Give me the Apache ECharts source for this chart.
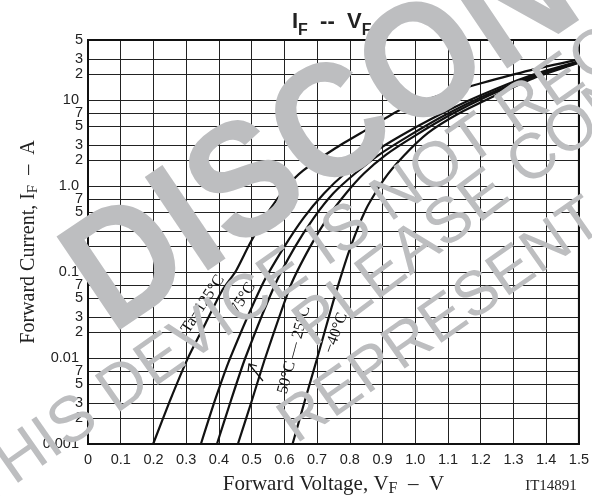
<!DOCTYPE html>
<html><head><meta charset="utf-8">
<script src="https://cdn.jsdelivr.net/npm/echarts@6/dist/echarts.min.js"></script>
<style>html,body{margin:0;padding:0;background:#fff}#c{width:592px;height:502px}</style>
</head><body><div id="c"></div>
<script>
// Tick values and labels
const xMin = 0, xMax = 1.5, xStep = 0.1;
const yMin = 0.001, yMax = 50;
const yTickValues = [0.001,0.002,0.003,0.005,0.007,0.01,0.02,0.03,0.05,0.07,0.1,0.2,0.3,0.5,0.7,1,2,3,5,7,10,20,30,50];
const yTickLabels = ['0.001','2','3','5','7','0.01','2','3','5','7','0.1','2','3','5','7','1.0','2','3','5','7','10','2','3','5'];
const decadeValues = [0.001,0.01,0.1,1,10];

// Curves: [forward voltage V, forward current A]
const curve125 = [[0.199,0.001],[0.251,0.00323],[0.306,0.0101],[0.357,0.0244],[0.409,0.0603],[0.452,0.103],[0.495,0.216],[0.556,0.535],[0.608,0.986],[0.657,1.51],[0.758,2.79],[0.855,4.62],[0.953,7.66],[1.075,11.4],[1.201,15.7],[1.35,22.2],[1.5,29.8]];
const curve75 = [[0.345,0.001],[0.388,0.00323],[0.434,0.0099],[0.532,0.0708],[0.599,0.195],[0.660,0.433],[0.721,0.82],[0.785,1.40],[0.862,2.31],[0.953,3.79],[1.075,6.79],[1.198,11.3],[1.35,19.2],[1.5,28.2]];
const curve50 = [[0.394,0.001],[0.437,0.00323],[0.480,0.00987],[0.571,0.0708],[0.632,0.195],[0.691,0.433],[0.749,0.82],[0.816,1.40],[0.889,2.31],[0.978,3.79],[1.094,6.79],[1.213,11.3],[1.354,18.7],[1.5,27.9]];
const curve25 = [[0.458,0.001],[0.501,0.00323],[0.541,0.00987],[0.620,0.0708],[0.678,0.195],[0.733,0.433],[0.788,0.82],[0.843,1.40],[0.910,2.31],[0.996,3.79],[1.109,6.79],[1.225,11.3],[1.357,18.5],[1.5,27.5]];
const curveM40 = [[0.625,0.001],[0.663,0.00323],[0.700,0.00987],[0.749,0.045],[0.800,0.1845],[0.849,0.535],[0.904,1.19],[0.965,2.25],[1.039,4.15],[1.130,6.89],[1.240,11.1],[1.360,17.9],[1.5,27.2]];

const curves = [curve125, curve75, curve50, curve25, curveM40];
const curveNames = ['Ta=125°C','75°C','50°C','25°C','−40°C'];

const chart = echarts.init(document.getElementById('c'), null, {renderer:'canvas'});
const sans = 'Liberation Sans, Arial, sans-serif';
const serif = 'Liberation Serif, Times New Roman, serif';
const gray = '#bdbec0';

const series = curves.map((c,i) => ({
  name: curveNames[i], type:'line', data: c, symbol:'none', smooth:0.2,
  lineStyle:{color:'#111', width:2.2}, z:5, silent:true
}));
series.push({
  type:'line', data:[], silent:true, z:3,
  markLine:{
    silent:true, symbol:['none','none'], animation:false, precision:6,
    lineStyle:{color:'#222', width:1, type:'solid'},
    data: yTickValues.map((v,i) => ({
      yAxis: v,
      label:{
        show:true, position:'start', distance:5,
        formatter: yTickLabels[i],
        color:'#222', fontFamily: sans, fontSize:14.5,
        padding: decadeValues.includes(v) ? [0,4,12,0] : 0
      }
    }))
  }
});

const option = {
  animation:false,
  backgroundColor:'#fff',
  title:{
    text:'{m|I}{s|F}{m|  --  V}{s|F}', left:287, top:6,
    textStyle:{rich:{
      m:{fontFamily:sans, fontSize:22, color:'#222', verticalAlign:'bottom'},
      s:{fontFamily:sans, fontSize:16, color:'#222', verticalAlign:'bottom', padding:[0,0,-6,0]}
    }}
  },
  grid:{left:88, right:13, top:40, bottom:54, show:true, borderColor:'#111', borderWidth:2, backgroundColor:'transparent', z:6},
  xAxis:{
    type:'value', min:xMin, max:xMax, interval:xStep,
    axisLine:{show:true, lineStyle:{color:'#111', width:2}},
    axisTick:{show:false},
    splitLine:{show:true, lineStyle:{color:'#222', width:1}},
    axisLabel:{color:'#222', fontFamily:sans, fontSize:14.5, margin:8,
      formatter: v => (Math.abs(v) < 1e-9 ? '0' : v.toFixed(1))},
    name:'{n|Forward Voltage, V}{s|F}{n|  –  V}', nameLocation:'middle', nameGap:27,
    nameTextStyle:{rich:{
      n:{fontFamily:serif, fontSize:21, color:'#222'},
      s:{fontFamily:serif, fontSize:16, color:'#222', padding:[10,0,0,0]}
    }}
  },
  yAxis:{
    type:'log', logBase:10, min:yMin, max:yMax,
    axisLine:{show:true, lineStyle:{color:'#111', width:2}},
    axisTick:{show:false},
    splitLine:{show:false},
    axisLabel:{show:false},
    name:'{n|Forward Current, I}{s|F}{n|  –  A}', nameLocation:'middle', nameGap:47,
    nameTextStyle:{rich:{
      n:{fontFamily:serif, fontSize:20, color:'#222'},
      s:{fontFamily:serif, fontSize:15, color:'#222', padding:[10,0,0,0]}
    }}
  },
  series: series,
  graphic:[
    {type:'text', x:551, y:486, style:{text:'IT14891', font:'15px '+serif, fill:'#222', textAlign:'center', textVerticalAlign:'middle'}, z:20},
    {type:'text', x:203, y:304, rotation:57*Math.PI/180, style:{text:'Ta=125°C', font:'16px '+serif, fill:'#111', textAlign:'center', textVerticalAlign:'middle'}, z:20},
    {type:'text', x:243, y:298, rotation:58*Math.PI/180, style:{text:'75°C', font:'16px '+serif, fill:'#111', textAlign:'center', textVerticalAlign:'middle'}, z:20},
    {type:'text', x:294, y:350, rotation:75*Math.PI/180, style:{text:'50°C — 25°C', font:'16px '+serif, fill:'#111', textAlign:'center', textVerticalAlign:'middle'}, z:20},
    {type:'text', x:336, y:333, rotation:70*Math.PI/180, style:{text:'−40°C', font:'16px '+serif, fill:'#111', textAlign:'center', textVerticalAlign:'middle'}, z:20},
    {type:'polyline', shape:{points:[[263,381],[249,364]]}, style:{stroke:'#111', lineWidth:1.2, fill:null}, z:20},
    {type:'polyline', shape:{points:[[248,372],[249,364],[257,366]]}, style:{stroke:'#111', lineWidth:1.2, fill:null}, z:20},
    // watermark
    {type:'text', x:132, y:366, rotation:34*Math.PI/180, scaleX:0.9, style:{text:'DISCONTINUED', font:'bold 164px '+sans, fill:gray, textAlign:'left', textVerticalAlign:'bottom'}, z:50},
    {type:'text', x:-10, y:520, rotation:35*Math.PI/180, style:{text:'THIS DEVICE IS NOT RECOMMENDED FOR NEW DESIGN', font:'64px '+sans, fill:gray, textAlign:'left', textVerticalAlign:'bottom'}, z:50},
    {type:'text', x:322, y:360, rotation:37*Math.PI/180, style:{text:'PLEASE CONTACT', font:'64px '+sans, fill:gray, textAlign:'left', textVerticalAlign:'bottom'}, z:50},
    {type:'text', x:304, y:456, rotation:35*Math.PI/180, style:{text:'REPRESENTATIVE', font:'62px '+sans, fill:gray, textAlign:'left', textVerticalAlign:'bottom'}, z:50}
  ]
};
chart.setOption(option);
</script></body></html>
